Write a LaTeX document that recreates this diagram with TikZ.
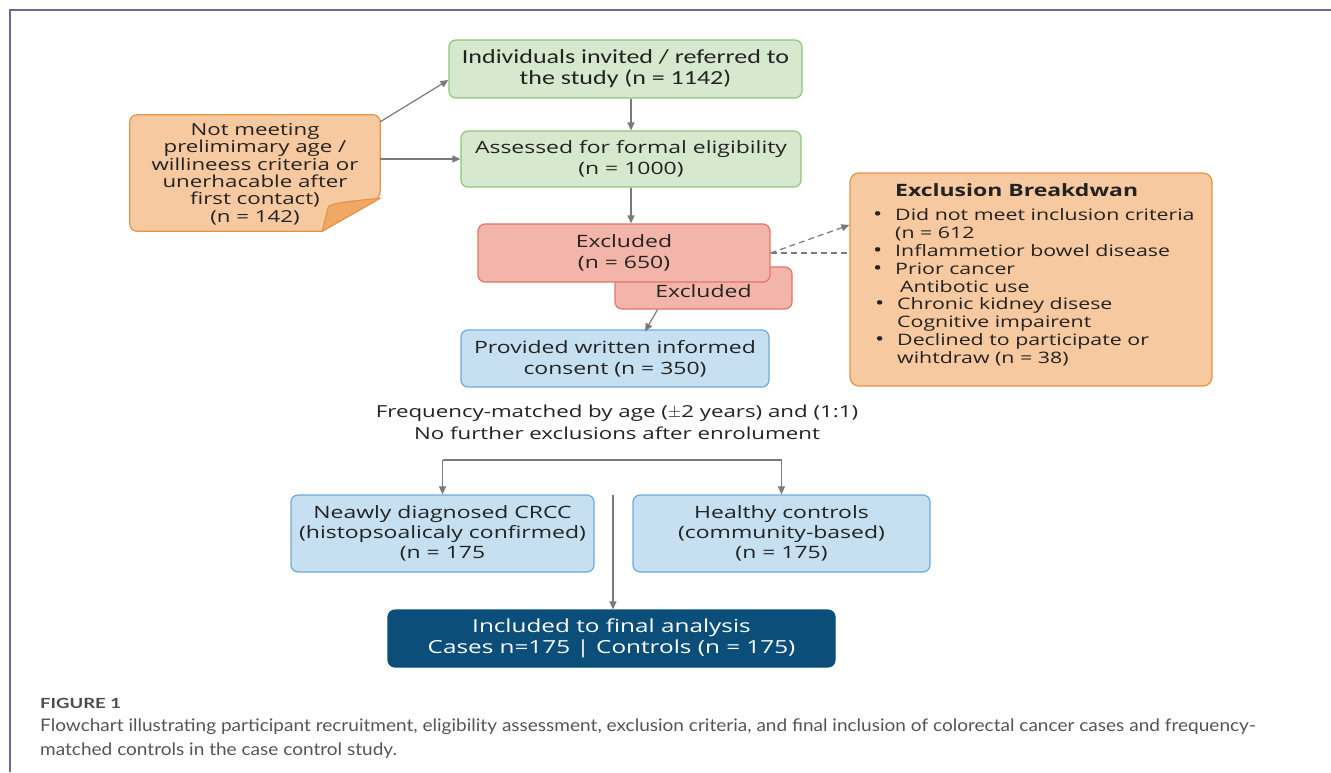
\documentclass[tikz,border=0pt]{standalone}
\usepackage{fontspec}
\setmainfont{Open Sans}[FakeStretch=1.35]
\newfontfamily\capfont{Lato}[FakeStretch=1.1]
\newfontfamily\calfont{Carlito}[FakeStretch=1.3]
\usetikzlibrary{arrows.meta}
\definecolor{gfill}{HTML}{D6E9CF}
\definecolor{gdraw}{HTML}{93C47D}
\definecolor{ofill}{HTML}{F7C9A0}
\definecolor{odraw}{HTML}{E59447}
\definecolor{ofold}{HTML}{F0A866}
\definecolor{rfill}{HTML}{F3B5AA}
\definecolor{rdraw}{HTML}{E0766A}
\definecolor{bfill}{HTML}{C6E0F2}
\definecolor{bdraw}{HTML}{6FA8DC}
\definecolor{dblue}{HTML}{0C4E7A}
\definecolor{arrc}{HTML}{7A7A7A}
\definecolor{txt}{HTML}{222222}
\definecolor{capc}{HTML}{555555}
\newcommand{\bul}{\scalebox{1.15}{\textbullet}}
\tikzset{
  box/.style={rounded corners=7pt, line width=1.2pt, align=center, inner sep=0pt, text=txt,
    font=\fontsize{17}{21}\selectfont},
  gbox/.style={box, fill=gfill, draw=gdraw},
  rbox/.style={box, fill=rfill, draw=rdraw},
  bbox/.style={box, fill=bfill, draw=bdraw},
  arr/.style={draw=arrc, line width=1.2pt, -{Triangle[length=8pt,width=7pt]}},
  ln/.style={draw=arrc, line width=1.2pt},
  dsh/.style={draw=arrc, line width=1.2pt, dash pattern=on 6pt off 4pt},
}
\begin{document}
\begin{tikzpicture}[x=1pt,y=-1pt]
\useasboundingbox (0,0) rectangle (1331,772);
\fill[white] (0,0) rectangle (1331,772);
% frame
\draw[color=gray!85!blue, line width=1.5pt] (10,772) -- (10,10) -- (1331,10);

% top boxes
\node[gbox, minimum width=353pt, minimum height=58pt, font=\calfont\fontsize{20}{21}\selectfont] (b1) at (625.5,69) {Individuals invited / referred to\\the study (n = 1142)};
\node[gbox, minimum width=340pt, minimum height=56pt] (b2) at (631,159) {Assessed for formal eligibility\\(n = 1000)};

% note
\node[inner sep=0pt, minimum width=250pt, minimum height=116pt] (note) at (255,173) {};
\draw[fill=ofill, draw=odraw, line width=1.2pt, rounded corners=7pt]
  (note.south west) -- (note.north west) -- (note.north east) -- ([yshift=33pt]note.south east)
  [sharp corners] -- ([xshift=-58pt]note.south east) [rounded corners=7pt] -- cycle;
\draw[fill=ofold, draw=odraw, line width=1.2pt, line join=round]
  ([yshift=33pt]note.south east) .. controls ([xshift=-30pt,yshift=30pt]note.south east) and ([xshift=-50pt,yshift=28pt]note.south east) .. ([xshift=-52pt,yshift=24pt]note.south east)
  -- ([xshift=-58pt]note.south east) -- cycle;
\node[align=center, inner sep=0pt, text=txt, font=\fontsize{16.5}{17.3}\selectfont] (notetxt) at ([yshift=-1pt]note.center) {Not meeting\\prelimimary age /\\willineess criteria or\\unerhacable after\\first contact)\\(n = 142)};

\draw[arr] ([yshift=-7pt]note.north east) -- ([yshift=-11pt]b1.west);
\draw[arr] (note.east |- b2.west) -- (b2.west);
\draw[arr] (b1.south -| b2.north) -- (b2.north);

% excluded boxes
\node[rbox, minimum width=177pt, minimum height=42pt, text depth=0pt] (ex2) at (703.5,288) {\raisebox{-6pt}{Excluded}};
\node[rbox, minimum width=292pt, minimum height=58pt] (ex1) at (624,253) {Excluded\\(n = 650)};
\draw[arr] (b2.south) -- (b2.south |- ex1.north);

% consent
\node[bbox, minimum width=308pt, minimum height=57pt] (cons) at (615,358.5) {Provided written informed\\consent (n = 350)};
\draw[arr] ([xshift=-46pt]ex2.south) -- ([xshift=30pt,yshift=-2pt]cons.north);

% exclusion breakdown
\node[rounded corners=9pt, fill=ofill, draw=odraw, line width=1.2pt, minimum width=362pt, minimum height=213pt, inner sep=0pt] (excl) at (1031,279.5) {};
\node[anchor=north west, inner sep=0pt, text=txt, align=left, font=\fontsize{15.8}{17.8}\selectfont] (excltxt) at (873,183) {%
\hspace*{22pt}{\bfseries\fontsize{17}{17.8}\selectfont Exclusion Breakdwan}\\[7pt]
\makebox[22pt][l]{\bul}Did not meet inclusion criteria\\
\hspace*{22pt}(n = 612\\
\makebox[22pt][l]{\bul}Inflammetior bowel disease\\
\makebox[22pt][l]{\bul}Prior cancer\\
\hspace*{27pt}Antibotic use\\
\makebox[24pt][l]{\hspace*{2pt}\bul}Chronic kidney disese\\
\hspace*{24pt}Cognitive impairent\\
\makebox[24pt][l]{\hspace*{2pt}\bul}Declined to participate or\\
\hspace*{24pt}wihtdraw (n = 38)};
\draw[dsh, -{Triangle[length=8pt,width=7pt]}] (ex1.east) -- ([yshift=54.5pt]excl.west);
\draw[dsh] (ex1.east) -- (ex1.east -| excl.west);

% matching text
\node[align=center, inner sep=0pt, text=txt, font=\fontsize{16.5}{22}\selectfont] (match) at (617,422) {Frequency-matched by age ($\pm$2 years) and (1:1)\\No further exclusions after enrolument};

% groups
\node[bbox, minimum width=303pt, minimum height=77pt, font=\fontsize{17}{20}\selectfont] (cases) at (442.5,533.5) {Neawly diagnosed CRCC\\(histopsoalicaly confirmed)\\(n = 175};
\node[bbox, minimum width=297pt, minimum height=77pt, font=\fontsize{17}{20}\selectfont] (ctrl) at (781.5,533.5) {Healthy controls\\(community-based)\\(n = 175)};
\coordinate (brL) at (442.5,460);
\coordinate (brR) at (781.5,460);
\draw[ln] (brL) -- (brR);
\draw[arr] (brL) -- (cases.north);
\draw[arr] (brR) -- (ctrl.north);

% final
\node[box, fill=dblue, draw=dblue, text=white, minimum width=447pt, minimum height=57pt, font=\fontsize{18}{21}\selectfont] (final) at (611.5,638.5) {Included to final analysis\\Cases n=175 | Controls (n = 175)};
\coordinate (mid) at (613,495);
\draw[arr] (mid) -- (mid |- final.north);

% caption
\node[anchor=west, inner sep=0pt, text=capc!90!black, font=\capfont\bfseries\fontsize{14}{15}\selectfont] (figlab) at (40,703) {\scalebox{1.2}[1]{FIGURE 1}};
\node[anchor=north west, inner sep=0pt, text=capc, align=left, font=\capfont\fontsize{17.3}{24}\selectfont] (cap) at (40,719) {Flowchart illustrating participant recruitment, eligibility assessment, exclusion criteria, and final inclusion of colorectal cancer cases and frequency-\\matched controls in the case control study.};
\end{tikzpicture}
\end{document}
